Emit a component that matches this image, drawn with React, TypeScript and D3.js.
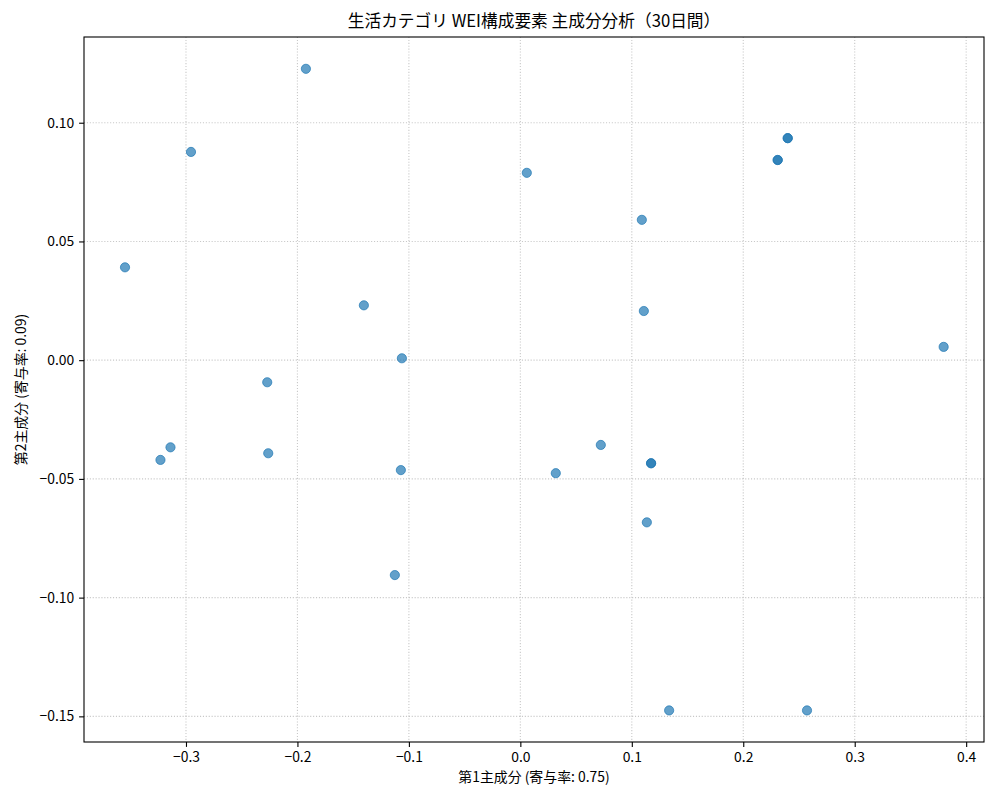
import { useEffect, useRef } from 'react';
import * as d3 from 'd3';

// 第1主成分 / 第2主成分 のスコア (重複点は濃く見える)
const pc1 = [
  -0.1924, -0.2955, -0.3547, -0.1404, -0.1063, -0.2271, -0.3139, -0.3229, -0.2262, -0.1072,
  -0.1126, 0.0058, 0.109, 0.1108, 0.0722, 0.0318, 0.1173, 0.1173, 0.1135, 0.1335,
  0.2572, 0.2309, 0.2309, 0.2399, 0.2399, 0.3798,
];
const pc2 = [
  0.1227, 0.0877, 0.0391, 0.0231, 0.0008, -0.0093, -0.0367, -0.042, -0.0392, -0.0463,
  -0.0905, 0.0789, 0.0591, 0.0207, -0.0357, -0.0476, -0.0434, -0.0434, -0.0683, -0.1475,
  -0.1475, 0.0843, 0.0843, 0.0935, 0.0935, 0.0056,
];
const xTicks = [-0.3, -0.2, -0.1, 0.0, 0.1, 0.2, 0.3, 0.4];
const yTicks = [-0.15, -0.1, -0.05, 0.0, 0.05, 0.1];

const title = '生活カテゴリ WEI構成要素 主成分分析（30日間）';
const xLabel = '第1主成分 (寄与率: 0.75)';
const yLabel = '第2主成分 (寄与率: 0.09)';

const FONT = '"Noto Sans CJK JP", "Noto Sans", sans-serif';

const App = () => {
  const svgRef = useRef<SVGSVGElement>(null);

  useEffect(() => {
    const svg = d3.select(svgRef.current);
    svg.selectAll('*').remove();

    // 描画領域
    const margin = { top: 37, right: 16, bottom: 58, left: 84 };
    const width = 1000 - margin.left - margin.right;
    const height = 800 - margin.top - margin.bottom;

    const xScale = d3.scaleLinear().domain([-0.3915, 0.416]).range([0, width]);
    const yScale = d3.scaleLinear().domain([-0.1608, 0.1361]).range([height, 0]);

    const minus = (s: string) => s.replace('-', '\u2212');

    svg.append('rect').attr('width', 1000).attr('height', 800).attr('fill', 'white');

    const chart = svg
      .append('g')
      .attr('transform', `translate(${margin.left},${margin.top})`);

    // グリッド
    const gridStyle = (sel: d3.Selection<SVGLineElement, number, SVGGElement, unknown>) =>
      sel
        .attr('stroke', '#b0b0b0')
        .attr('stroke-opacity', 0.7)
        .attr('stroke-width', 1.1)
        .attr('stroke-dasharray', '1.1,1.8');

    chart
      .append('g')
      .selectAll('line')
      .data(xTicks)
      .enter()
      .append('line')
      .attr('x1', (d) => xScale(d))
      .attr('x2', (d) => xScale(d))
      .attr('y1', 0)
      .attr('y2', height)
      .call(gridStyle);

    chart
      .append('g')
      .selectAll('line')
      .data(yTicks)
      .enter()
      .append('line')
      .attr('x1', 0)
      .attr('x2', width)
      .attr('y1', (d) => yScale(d))
      .attr('y2', (d) => yScale(d))
      .call(gridStyle);

    // 散布点
    chart
      .append('g')
      .selectAll('circle')
      .data(pc1.map((x, i) => ({ x, y: pc2[i] })))
      .enter()
      .append('circle')
      .attr('cx', (d) => xScale(d.x))
      .attr('cy', (d) => yScale(d.y))
      .attr('r', 4.6)
      .attr('fill', '#1f77b4')
      .attr('fill-opacity', 0.7)
      .attr('stroke', '#1f77b4')
      .attr('stroke-opacity', 0.7)
      .attr('stroke-width', 1);

    // 軸
    const xAxis = chart
      .append('g')
      .attr('transform', `translate(0,${height})`)
      .call(
        d3
          .axisBottom(xScale)
          .tickValues(xTicks)
          .tickSize(4.9)
          .tickPadding(4.9)
          .tickFormat((d) => minus(d3.format('.1f')(d as number))),
      );
    const yAxis = chart.append('g').call(
      d3
        .axisLeft(yScale)
        .tickValues(yTicks)
        .tickSize(4.9)
        .tickPadding(4.9)
        .tickFormat((d) => minus(d3.format('.2f')(d as number))),
    );
    [xAxis, yAxis].forEach((a) => {
      a.select('.domain').remove();
      a.selectAll('line').attr('stroke', '#000').attr('stroke-width', 1.1);
      a.selectAll('text')
        .attr('fill', '#000')
        .style('font-family', FONT)
        .style('font-size', '13.9px');
    });

    // 枠
    chart
      .append('rect')
      .attr('width', width)
      .attr('height', height)
      .attr('fill', 'none')
      .attr('stroke', '#000')
      .attr('stroke-width', 1.1);

    // タイトル・ラベル
    svg
      .append('text')
      .attr('x', margin.left + width / 2)
      .attr('y', 27)
      .attr('text-anchor', 'middle')
      .style('font-family', FONT)
      .style('font-size', '16.7px')
      .text(title);

    svg
      .append('text')
      .attr('x', margin.left + width / 2)
      .attr('y', 782)
      .attr('text-anchor', 'middle')
      .style('font-family', FONT)
      .style('font-size', '13.9px')
      .text(xLabel);

    svg
      .append('text')
      .attr('transform', `translate(26,${margin.top + height / 2}) rotate(-90)`)
      .attr('text-anchor', 'middle')
      .style('font-family', FONT)
      .style('font-size', '13.9px')
      .text(yLabel);
  }, []);

  return (
    <svg
      ref={svgRef}
      width={1000}
      height={800}
      style={{ position: 'absolute', left: 0, top: 0 }}
    />
  );
};

export default App;
